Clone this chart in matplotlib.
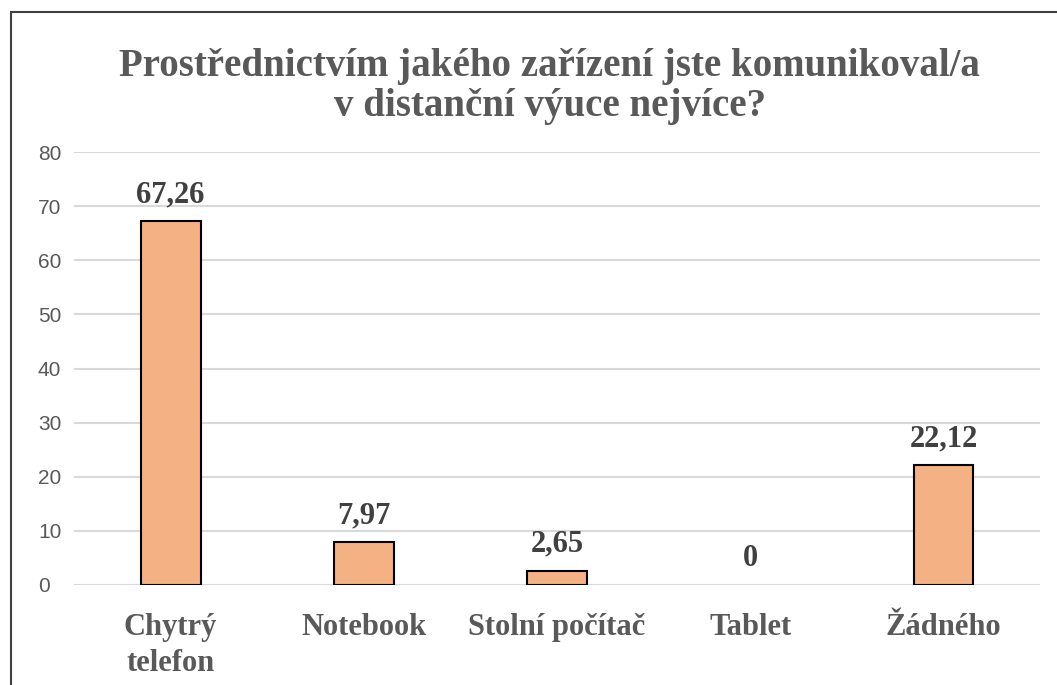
import numpy as np
import matplotlib.pyplot as plt
from matplotlib.patches import Rectangle

# Data
kategorie = ["Chytrý\ntelefon", "Notebook", "Stolní počítač", "Tablet", "Žádného"]
hodnoty = [67.26, 7.97, 2.65, 0, 22.12]
popisky = ["67,26", "7,97", "2,65", "0", "22,12"]
osaY = [0, 10, 20, 30, 40, 50, 60, 70, 80]

serif = ["Liberation Serif", "DejaVu Serif"]
seda = "#595959"


def main():
    fig = plt.figure(figsize=(10.57, 6.85), dpi=100)
    ax = fig.add_axes([0.070, 0.146, 0.914, 0.632])

    # ramecek grafu
    fig.patches.append(Rectangle((11/1057, -0.05), 1.1, 1 - 12/685 + 0.05,
                                 transform=fig.transFigure, fill=False,
                                 edgecolor="#404040", linewidth=1.5))

    x = np.arange(len(kategorie))
    sloupce = ax.bar(x, hodnoty, width=0.31, color="#F4B183", edgecolor="black",
                     linewidth=1.5, zorder=3)
    for s, h in zip(sloupce, hodnoty):
        if h == 0:
            s.set_linewidth(0)

    for xi, h, t in zip(x, hodnoty, popisky):
        ax.text(xi, h + 2.2, t, ha="center", va="bottom", family=serif,
                fontweight="bold", fontsize=22, color="#404040")

    ax.set_xlim(-0.5, 4.5)
    ax.set_ylim(0, 80)
    ax.set_yticks(osaY)
    ax.set_yticklabels([str(v) for v in osaY], fontsize=15, color=seda,
                       family=["Liberation Sans", "DejaVu Sans"])
    ax.set_xticks(x)
    ax.set_xticklabels(kategorie, family=serif, fontweight="bold",
                       fontsize=22, color=seda, linespacing=1.35, va="top")
    ax.tick_params(axis="both", length=0)
    ax.tick_params(axis="x", pad=20)
    ax.tick_params(axis="y", pad=26)
    for lab in ax.get_yticklabels():
        lab.set_horizontalalignment("left")

    ax.grid(axis="y", color="#d9d9d9", linewidth=1.5, zorder=0)
    for s in ax.spines.values():
        s.set_visible(False)

    fig.text(0.52, 0.93,
             "Prostřednictvím jakého zařízení jste komunikoval/a\nv distanční výuce nejvíce?",
             ha="center", va="top", family=serif, fontweight="bold",
             fontsize=28, color=seda, linespacing=1.1)

    fig.savefig("out.png", dpi=100)


if __name__ == "__main__":
    main()
